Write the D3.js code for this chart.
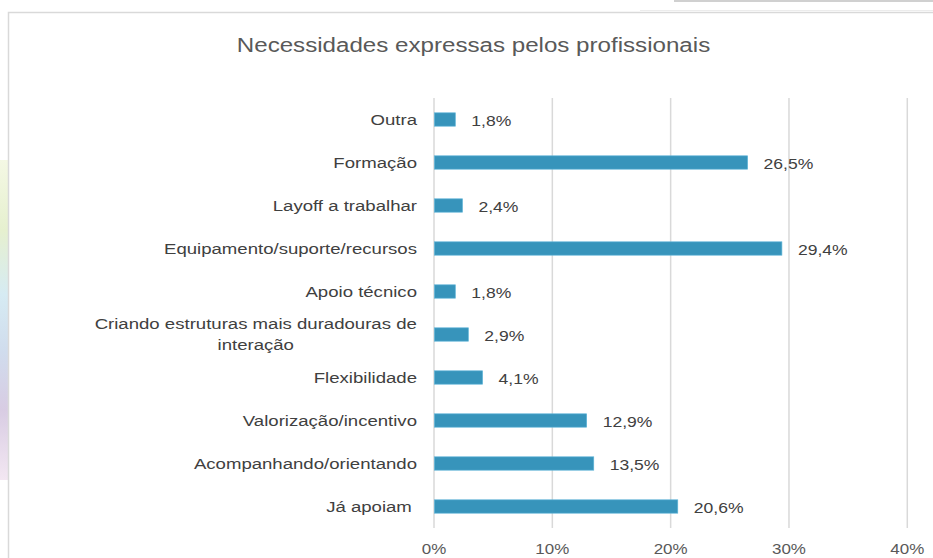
<!DOCTYPE html>
<html><head><meta charset="utf-8">
<script src="https://cdn.jsdelivr.net/npm/d3@7"></script>
<style>html,body{margin:0;padding:0;background:#fff;overflow:hidden}svg{display:block}</style>
</head><body>
<svg id="c" width="933" height="558"></svg>
<script>
const categories = ["Outra","Formação","Layoff a trabalhar","Equipamento/suporte/recursos","Apoio técnico","Criando estruturas mais duradouras de interação","Flexibilidade","Valorização/incentivo","Acompanhando/orientando","Já apoiam "];
const values = [1.8, 26.5, 2.4, 29.4, 1.8, 2.9, 4.1, 12.9, 13.5, 20.6];
const valueLabels = ["1,8%","26,5%","2,4%","29,4%","1,8%","2,9%","4,1%","12,9%","13,5%","20,6%"];
const xTicks = [0, 10, 20, 30, 40];
const title = "Necessidades expressas pelos profissionais";

const svg = d3.select("#c");
const font = "'Liberation Sans', Arial, sans-serif";

function stext(g, x, y, sx, size, fill, anchor, str) {
  return g.append("text")
    .attr("transform", `translate(${x},${y}) scale(${sx},1)`)
    .attr("x", 0).attr("y", 0)
    .attr("text-anchor", anchor)
    .attr("font-family", font).attr("font-size", size).attr("fill", fill)
    .style("white-space", "pre")
    .text(str);
}

// decorative background
const defs = svg.append("defs");
const lg = defs.append("linearGradient").attr("id","pg").attr("x1",0).attr("y1",0).attr("x2",0).attr("y2",1);
[["0%","#f4f8e4"],["22%","#e6f0cf"],["42%","#d6ebf3"],["60%","#d0dced"],["78%","#d8cce3"],["100%","#f3e7f2"]].forEach(s=>lg.append("stop").attr("offset",s[0]).attr("stop-color",s[1]));
svg.append("rect").attr("x",0).attr("y",160).attr("width",8).attr("height",320).attr("fill","url(#pg)");
svg.append("rect").attr("x",674).attr("y",0).attr("width",259).attr("height",2).attr("fill","#d0d0d0");
svg.append("line").attr("x1",640).attr("x2",933).attr("y1",10.5).attr("y2",10.5).attr("stroke","#ececec");
svg.append("rect").attr("x",8.5).attr("y",12.5).attr("width",940).attr("height",560).attr("fill","#fff").attr("stroke","#d9d9d9").attr("stroke-width",1.5);

const x = d3.scaleLinear().domain([0,40]).range([434,907.3]);
const y = d3.scaleBand().domain(categories).range([98,528]).paddingInner(0.69).paddingOuter(0.345);

stext(svg, 473.5, 51.7, 1.15, 21, "#595959", "middle", title);

// gridlines
svg.append("g").selectAll("line").data(xTicks).join("line")
  .attr("x1",d=>x(d)).attr("x2",d=>x(d)).attr("y1",98).attr("y2",528)
  .attr("stroke","#d9d9d9").attr("stroke-width",1.5);

// x tick labels
const tg = svg.append("g");
xTicks.forEach(t => stext(tg, x(t), 554, 1.13, 15, "#595959", "middle", t + "%"));

// bars
svg.append("g").selectAll("rect").data(categories).join("rect")
  .attr("x",x(0)+0.5).attr("y",d=>y(d))
  .attr("width",(d,i)=>x(values[i])-x(0)-0.5).attr("height",y.bandwidth())
  .attr("fill","#3794bb").attr("stroke","#5cb3d6").attr("stroke-width",0.7);

// value labels
const vg = svg.append("g");
categories.forEach((c,i) => stext(vg, x(values[i]) + 16, y(c) + y.bandwidth()/2 + 6, 1.17, 15, "#404040", "start", valueLabels[i]));

// category labels
const cl = svg.append("g");
const SX = 1.24;
categories.forEach(c=>{
  const cy = y(c)+y.bandwidth()/2;
  if (c.startsWith("Criando")) {
    const lines = ["Criando estruturas mais duradouras de","interação"];
    const probe = stext(cl, 0, 0, 1, 15, "#404040", "start", lines[0]);
    const w = probe.node().getComputedTextLength() * SX;
    probe.remove();
    const cx = 417 - w/2;
    lines.forEach((l,k)=> stext(cl, cx, cy - 10.5 + 5 + k*21, SX, 15, "#404040", "middle", l));
  } else {
    stext(cl, 417, cy + 5, SX, 15, "#404040", "end", c);
  }
});
</script>
</body></html>
